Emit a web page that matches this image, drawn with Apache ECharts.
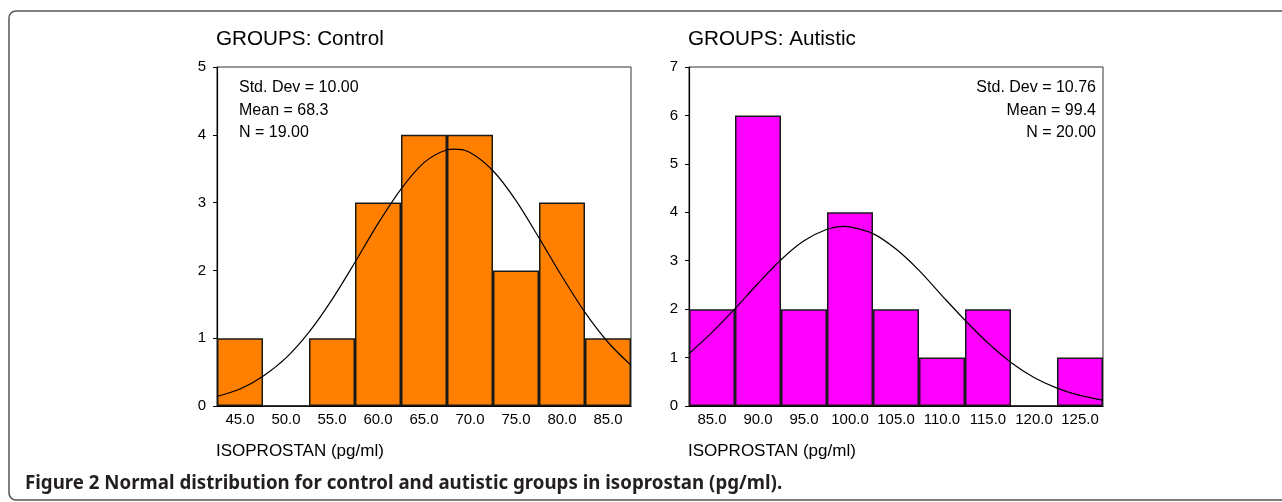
<!DOCTYPE html>
<html>
<head>
<meta charset="utf-8">
<script src="https://cdn.jsdelivr.net/npm/echarts@6/dist/echarts.min.js"></script>
<style>
html,body{margin:0;padding:0;background:#fff;}
#c{width:1282px;height:502px;}
</style>
</head>
<body>
<div id="c"></div>
<script>
// ---- data ----
var controlBins = [45, 50, 55, 60, 65, 70, 75, 80, 85];
var controlCounts = [1, 0, 1, 3, 4, 4, 2, 3, 1];
var autisticBins = [85, 90, 95, 100, 105, 110, 115, 120, 125];
var autisticCounts = [2, 6, 2, 4, 2, 1, 2, 0, 1];
// normal curve (x, count)
var controlCurveX = [42.5, 45, 47.5, 50, 52.5, 55, 57.5, 60, 62.5, 65, 67.5, 68.3, 70, 72.5, 75, 77.5, 80, 82.5, 85, 87.5];
var controlCurveY = [0.14, 0.25, 0.44, 0.71, 1.09, 1.57, 2.12, 2.69, 3.20, 3.59, 3.78, 3.79, 3.74, 3.47, 3.03, 2.48, 1.91, 1.38, 0.94, 0.60];
var autisticCurveX = [82.5, 85, 87.5, 90, 92.5, 95, 97.5, 99.4, 100, 102.5, 105, 107.5, 110, 112.5, 115, 117.5, 120, 122.5, 125, 127.5];
var autisticCurveY = [1.08, 1.52, 2.01, 2.53, 3.02, 3.41, 3.65, 3.71, 3.70, 3.56, 3.24, 2.80, 2.28, 1.77, 1.30, 0.90, 0.59, 0.37, 0.22, 0.12];
var controlYTicks = [0, 1, 2, 3, 4, 5];
var autisticYTicks = [0, 1, 2, 3, 4, 5, 6, 7];
var titles = ['GROUPS: Control', 'GROUPS: Autistic'];
var controlStats = ['Std. Dev = 10.00', 'Mean = 68.3', 'N = 19.00'];
var autisticStats = ['Std. Dev = 10.76', 'Mean = 99.4', 'N = 20.00'];
var xName = 'ISOPROSTAN (pg/ml)';
var caption = 'Figure 2 Normal distribution for control and autistic groups in isoprostan (pg/ml).';

var FONT = '"Liberation Sans", Arial, Helvetica, sans-serif';
var chart = echarts.init(document.getElementById('c'), null, {renderer: 'canvas'});

function pairs(xs, ys) { return xs.map(function (x, i) { return [x, ys[i]]; }); }

function yAxis(idx, ticks) {
  return {
    type: 'value', gridIndex: idx, min: ticks[0], max: ticks[ticks.length - 1], interval: 1,
    axisLine: {show: true, lineStyle: {color: '#000', width: 1.2}},
    axisTick: {show: true, length: 4, lineStyle: {color: '#000'}},
    splitLine: {show: false},
    axisLabel: {color: '#000', fontSize: 15, fontFamily: FONT, margin: 11}
  };
}
function catAxis(idx, bins) {
  return {
    type: 'category', gridIndex: idx, data: bins.map(function (b) { return b.toFixed(1); }),
    boundaryGap: true,
    axisLine: {show: true, onZero: false, lineStyle: {color: '#000', width: 1.2}},
    axisTick: {show: false},
    axisLabel: {color: '#000', fontSize: 15, fontFamily: FONT, margin: 6, interval: 0}
  };
}
function valXAxis(idx, xs) {
  return {type: 'value', gridIndex: idx, min: xs[0], max: xs[xs.length - 1], show: false};
}
function statText(lines, x, align) {
  return lines.map(function (t, i) {
    return {type: 'text', x: x, y: 88 + i * 22.5,
      style: {text: t, font: '16px ' + FONT, fill: '#000', textAlign: align, textVerticalAlign: 'middle'}};
  });
}

var graphics = [
  {type: 'rect', shape: {x: 9, y: 11, width: 1300, height: 489, r: 7},
    style: {fill: 'none', stroke: '#555', lineWidth: 1.5}, z: -1},
  {type: 'text', x: 216, y: 39, style: {text: titles[0], font: '20.7px ' + FONT, fill: '#000', textVerticalAlign: 'middle'}},
  {type: 'text', x: 688, y: 39, style: {text: titles[1], font: '20.7px ' + FONT, fill: '#000', textVerticalAlign: 'middle'}},
  {type: 'text', x: 216, y: 451, style: {text: xName, font: '17px ' + FONT, fill: '#000', textVerticalAlign: 'middle'}},
  {type: 'text', x: 688, y: 451, style: {text: xName, font: '17px ' + FONT, fill: '#000', textVerticalAlign: 'middle'}},
  {type: 'text', x: 25, y: 484, style: {text: caption, font: 'bold 18.7px "Noto Sans", sans-serif', fill: '#231f20', textVerticalAlign: 'middle'}}
].concat(statText(controlStats, 239, 'left')).concat(statText(autisticStats, 1096, 'right'));

var option = {
  backgroundColor: '#fff',
  animation: false,
  grid: [
    {left: 217, top: 67, width: 414, height: 339, show: true, borderColor: '#333', borderWidth: 1, backgroundColor: 'transparent'},
    {left: 689, top: 67, width: 414, height: 339, show: true, borderColor: '#333', borderWidth: 1, backgroundColor: 'transparent'}
  ],
  xAxis: [catAxis(0, controlBins), valXAxis(0, controlCurveX), catAxis(1, autisticBins), valXAxis(1, autisticCurveX)],
  yAxis: [yAxis(0, controlYTicks), yAxis(1, autisticYTicks)],
  series: [
    {type: 'bar', xAxisIndex: 0, yAxisIndex: 0, data: controlCounts, barWidth: '100%',
      itemStyle: {color: '#ff8000', borderColor: '#1a1a1a', borderWidth: 1.5}, z: 2},
    {type: 'line', xAxisIndex: 1, yAxisIndex: 0, data: pairs(controlCurveX, controlCurveY), smooth: 0.3,
      showSymbol: false, symbol: 'none', lineStyle: {color: '#000', width: 1.2}, z: 5},
    {type: 'bar', xAxisIndex: 2, yAxisIndex: 1, data: autisticCounts, barWidth: '100%',
      itemStyle: {color: '#ff00ff', borderColor: '#1a1a1a', borderWidth: 1.5}, z: 2},
    {type: 'line', xAxisIndex: 3, yAxisIndex: 1, data: pairs(autisticCurveX, autisticCurveY), smooth: 0.3,
      showSymbol: false, symbol: 'none', lineStyle: {color: '#000', width: 1.2}, z: 5}
  ],
  graphic: graphics
};
chart.setOption(option);
</script>
</body>
</html>
